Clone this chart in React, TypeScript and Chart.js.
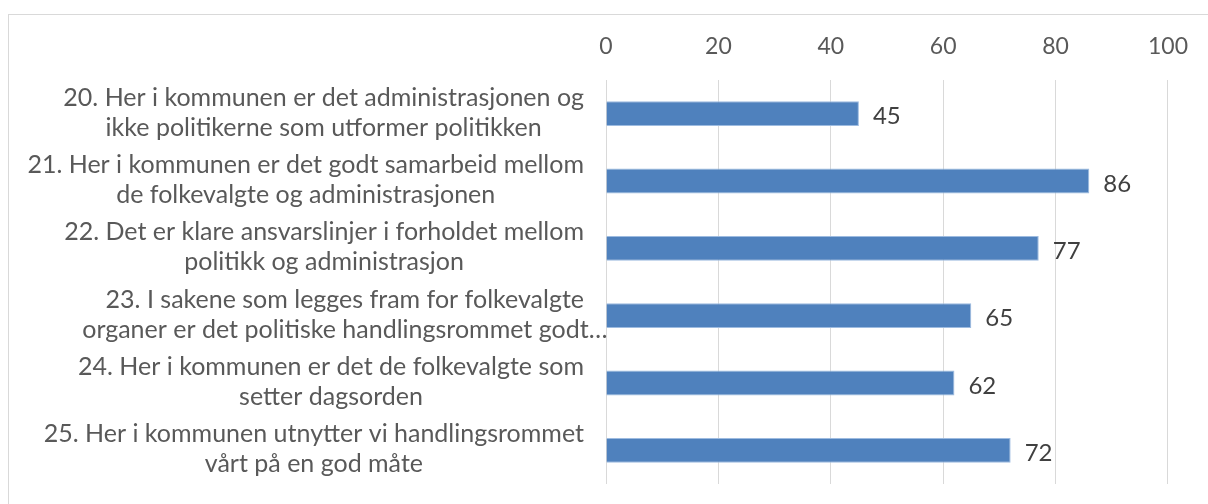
import React, { useEffect, useRef } from "react";
import { Chart, registerables } from "chart.js";

Chart.register(...registerables);

const categories: string[][] = [
  ["20. Her i kommunen er det administrasjonen og", "ikke politikerne som utformer politikken"],
  ["21. Her i kommunen er det godt samarbeid mellom", "de folkevalgte og administrasjonen"],
  ["22. Det er klare ansvarslinjer i forholdet mellom", "politikk og administrasjon"],
  ["23. I sakene som legges fram for folkevalgte", "organer er det politiske handlingsrommet godt…"],
  ["24. Her i kommunen er det de folkevalgte som", "setter dagsorden"],
  ["25. Her i kommunen utnytter vi handlingsrommet", "vårt på en god måte"],
];
const values: number[] = [45, 86, 77, 65, 62, 72];
const axisMin = 0;
const axisMax = 100;
const axisStep = 20;

const FONT_FAMILY = "Lato, 'Noto Sans', sans-serif";
const TICK_SIZE = 23;
const LABEL_SIZE = 25;
const VALUE_SIZE = 24;

const labelPlugin = {
  id: "customLabels",
  afterDraw(chart: any) {
    const { ctx, chartArea } = chart;
    const yScale = chart.scales.y;
    const xScale = chart.scales.x;
    ctx.save();
    ctx.textBaseline = "middle";
    // category labels
    ctx.font = `${LABEL_SIZE}px ${FONT_FAMILY}`;
    ctx.fillStyle = "#595959";
    ctx.textAlign = "center";
    const lineH = 30;
    categories.forEach((lines, i) => {
      const y = yScale.getPixelForValue(i);
      const w1 = ctx.measureText(lines[0]).width;
      const cx = chartArea.left - 22 - w1 / 2;
      lines.forEach((ln, j) => {
        ctx.fillText(ln, cx, y - 1 + (j - (lines.length - 1) / 2) * lineH);
      });
    });
    // value labels
    ctx.font = `${VALUE_SIZE}px ${FONT_FAMILY}`;
    ctx.fillStyle = "#404040";
    ctx.textAlign = "left";
    values.forEach((v, i) => {
      const y = yScale.getPixelForValue(i);
      const x = xScale.getPixelForValue(v);
      ctx.fillText(String(v), x + 14, y + 3);
    });
    ctx.restore();
  },
};

export default function App() {
  const canvasRef = useRef<HTMLCanvasElement | null>(null);

  useEffect(() => {
    document.body.style.margin = "0";
    const canvas = canvasRef.current;
    if (!canvas) return;
    const chart = new Chart(canvas, {
      type: "bar",
      data: {
        labels: categories.map((c) => c.join(" ")),
        datasets: [
          {
            data: values,
            backgroundColor: "#4f81bd",
            borderColor: "#9dbbe0",
            borderWidth: 1,
            barPercentage: 0.37,
            categoryPercentage: 1,
          },
        ],
      },
      options: {
        indexAxis: "y",
        animation: false,
        responsive: false,
        maintainAspectRatio: false,
        layout: { padding: { left: 0, right: 39, top: 0, bottom: 20 } },
        plugins: {
          legend: { display: false },
          tooltip: { enabled: false },
          title: { display: false },
        },
        scales: {
          x: {
            position: "top",
            min: axisMin,
            max: axisMax,
            ticks: {
              stepSize: axisStep,
              color: "#595959",
              font: { family: FONT_FAMILY, size: TICK_SIZE },
              padding: 20,
            },
            grid: { color: "#d9d9d9", drawTicks: false, lineWidth: 1 },
            border: { display: false },
            afterFit: (scale: any) => {
              scale.height = 80;
            },
          },
          y: {
            ticks: { display: false },
            grid: { display: false },
            border: { display: false },
            afterFit: (scale: any) => {
              scale.width = 606;
            },
          },
        },
      },
      plugins: [labelPlugin],
    } as any);
    return () => chart.destroy();
  }, []);

  return (
    <div style={{ position: "relative", width: 1208, height: 504, overflow: "hidden", background: "#fff" }}>
      <div
        style={{
          position: "absolute",
          left: 8,
          top: 14,
          width: 1220,
          height: 520,
          border: "1px solid #d9d9d9",
          boxSizing: "border-box",
        }}
      />
      <canvas ref={canvasRef} width={1208} height={504} style={{ position: "absolute", left: 0, top: 0 }} />
    </div>
  );
}
